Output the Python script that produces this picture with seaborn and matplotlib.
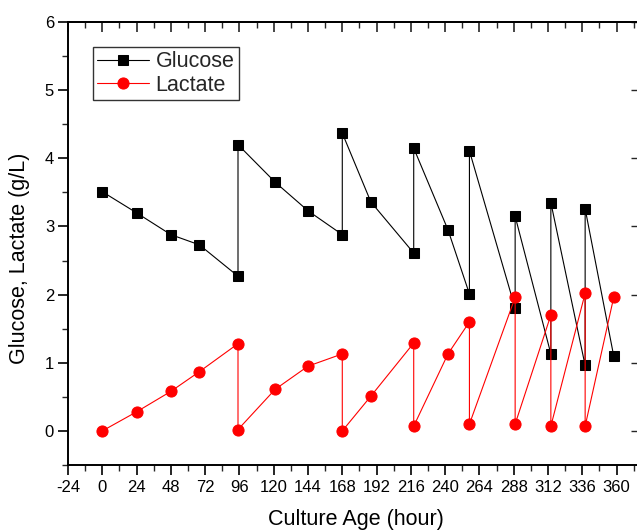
import matplotlib
matplotlib.use("Agg")
import matplotlib.pyplot as plt
import seaborn as sns
import pandas as pd
from matplotlib.ticker import MultipleLocator

# Data
glucose_hours = [0, 24, 48, 68, 95, 95, 121, 144, 168, 168, 188, 218, 218, 242,
                 257, 257, 289, 289, 314, 314, 338, 338, 358]
glucose_vals = [3.51, 3.20, 2.88, 2.73, 2.27, 4.20, 3.65, 3.23, 2.88, 4.37, 3.36,
                2.61, 4.15, 2.95, 2.01, 4.11, 1.80, 3.15, 1.13, 3.35, 0.96, 3.26, 1.10]

lactate_hours = [0, 24, 48, 68, 95, 95, 121, 144, 168, 168, 188, 218, 218, 242,
                 257, 257, 289, 289, 314, 314, 338, 338, 358]
lactate_vals = [0.00, 0.28, 0.58, 0.87, 1.28, 0.02, 0.61, 0.95, 1.13, 0.00, 0.51,
                1.29, 0.07, 1.13, 1.60, 0.10, 1.96, 0.10, 1.70, 0.07, 2.02, 0.07, 1.96]

x_ticks = [-24, 0, 24, 48, 72, 96, 120, 144, 168, 192, 216, 240, 264, 288, 312, 336, 360]
y_ticks = [0, 1, 2, 3, 4, 5, 6]

sns.set_theme(style="white")
plt.rcParams['font.family'] = ['Liberation Sans', 'DejaVu Sans']

glu = pd.DataFrame({"Hour": glucose_hours, "Value": glucose_vals})
lac = pd.DataFrame({"Hour": lactate_hours, "Value": lactate_vals})

fig = plt.figure(figsize=(6.37, 5.30), dpi=100)
ax = fig.add_axes([68/637, 1-465/530, 570/637, (465-22)/530])

sns.lineplot(data=glu, x="Hour", y="Value", sort=False, estimator=None,
             color="black", linewidth=0.8, marker="s", markersize=6.5,
             markeredgecolor="black", markerfacecolor="black",
             label="Glucose", ax=ax)
sns.lineplot(data=lac, x="Hour", y="Value", sort=False, estimator=None,
             color="#ff0000", linewidth=0.8, marker="o", markersize=8,
             markeredgecolor="#ff0000", markerfacecolor="#ff0000",
             label="Lactate", ax=ax)

ax.set_xlim(-24, 375)
ax.set_ylim(-0.5, 6)
ax.set_xticks(x_ticks)
ax.set_xticklabels([str(t) for t in x_ticks])
ax.set_yticks(y_ticks)
ax.set_yticklabels([str(t) for t in y_ticks])
ax.xaxis.set_minor_locator(MultipleLocator(12))
ax.yaxis.set_minor_locator(MultipleLocator(0.5))

for s in ["left", "bottom", "top", "right"]:
    ax.spines[s].set_visible(True)
    ax.spines[s].set_color("black")
    ax.spines[s].set_linewidth(1.4)

ax.tick_params(axis="x", which="major", direction="out", length=7, width=1.2,
               labelsize=12, colors="black", bottom=True, top=False, pad=4)
ax.tick_params(axis="x", which="minor", direction="out", length=4, width=1.0,
               bottom=True, top=False)
ax.tick_params(axis="y", which="major", direction="out", length=7, width=1.2,
               labelsize=12, colors="black", left=True, right=False, pad=3)
ax.tick_params(axis="y", which="minor", direction="out", length=4, width=1.0,
               left=True, right=False)

# top and right inward ticks via secondary axes
top = ax.secondary_xaxis("top")
top.set_xticks(x_ticks)
top.xaxis.set_minor_locator(MultipleLocator(12))
top.tick_params(axis="x", which="major", direction="in", length=7, width=1.2, labeltop=False)
top.tick_params(axis="x", which="minor", direction="in", length=4, width=1.0)
top.spines["top"].set_linewidth(1.4)
right = ax.secondary_yaxis("right")
right.set_yticks(y_ticks)
right.tick_params(axis="y", which="major", direction="in", length=5, width=1.0, labelright=False)

ax.set_xlabel("Culture Age (hour)", fontsize=15.5, color="black")
ax.set_ylabel("Glucose, Lactate (g/L)", fontsize=15.5, color="black")
ax.xaxis.set_label_coords((356-68)/570, -(509-465)/443)
ax.yaxis.set_label_coords((30-68)/570, (465-258)/443)

leg = ax.legend(loc="upper left", bbox_to_anchor=(25/570, (465-47)/443),
                borderaxespad=0, frameon=True, fancybox=False, fontsize=15.5,
                handlelength=2.4, handletextpad=0.3, borderpad=0.2,
                labelspacing=0.12, edgecolor="black")
leg.get_frame().set_linewidth(1.0)

fig.savefig("out.png", dpi=100)
